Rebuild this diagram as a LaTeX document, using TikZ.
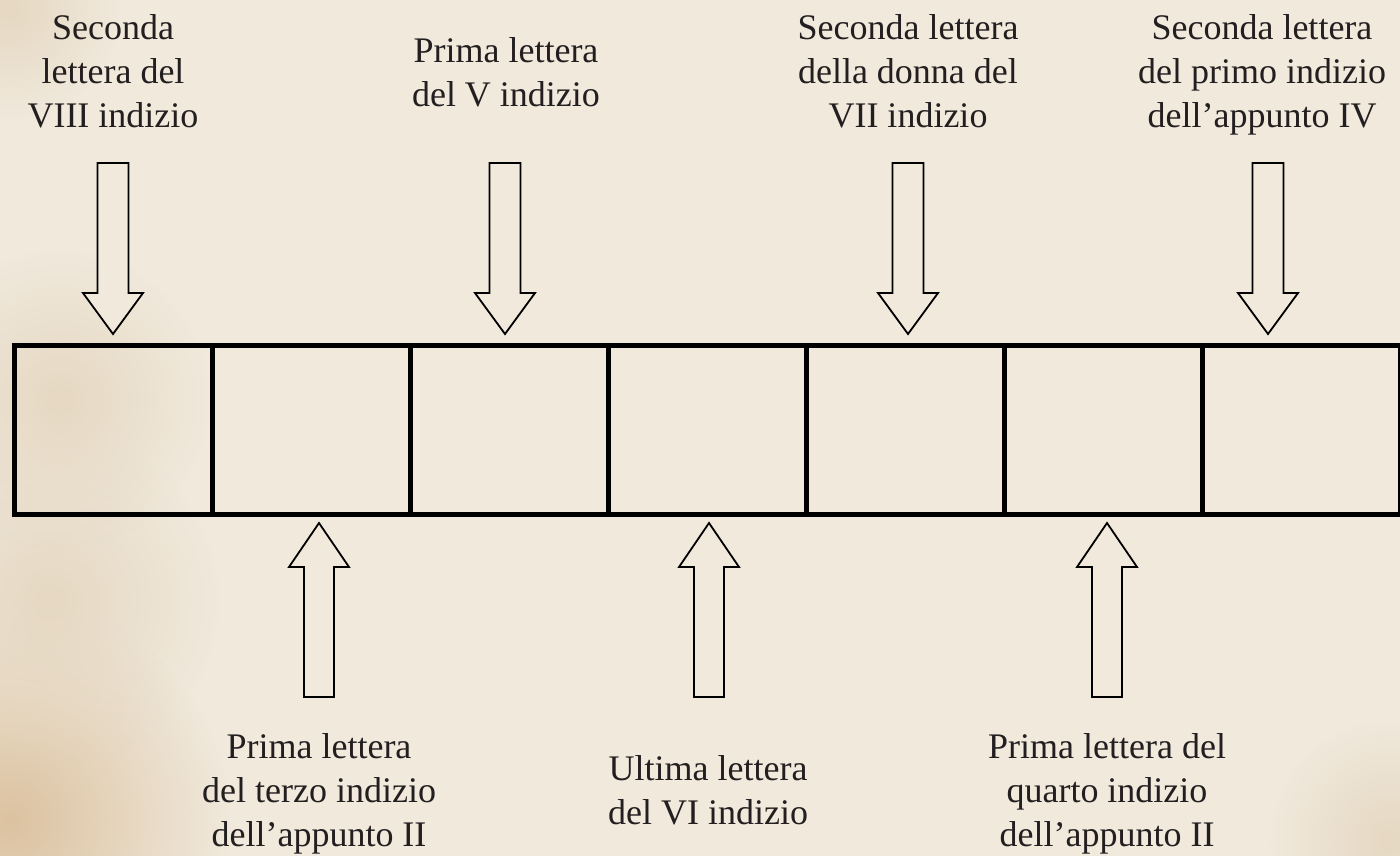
\documentclass[tikz,border=0pt]{standalone}
\usepackage{fontspec}
\setmainfont{Liberation Serif}
\usetikzlibrary{fadings}
\tikzfading[name=blotchfade, inner color=transparent!0, outer color=transparent!100]
\definecolor{paper}{HTML}{F0E9DC}
\definecolor{stain}{HTML}{DCC2A0}
\definecolor{stainlight}{HTML}{E6D8C2}
\definecolor{ink}{HTML}{231F20}
\begin{document}
\begin{tikzpicture}[x=1pt,y=-1pt,
  cell/.style={draw=black,line width=5pt,minimum width=198pt,minimum height=169pt,inner sep=0pt,outer sep=0pt,anchor=north west},
  blockarrow/.style={draw=black,line width=1.8pt,line join=miter,fill=paper},
  blotch/.style={path fading=blotchfade},
  lbl/.style={font=\fontsize{36}{44}\selectfont,text=ink,align=center,inner sep=0pt,anchor=north},
  downarr/.pic={\draw[blockarrow] (-15.5,0) -- (15.5,0) -- (15.5,130) -- (30,130) -- (0,171) -- (-30,130) -- (-15.5,130) -- cycle;},
  uparr/.pic={\draw[blockarrow] (0,0) -- (30,44) -- (15,44) -- (15,174) -- (-15,174) -- (-15,44) -- (-30,44) -- cycle;}]
\useasboundingbox (0,0) rectangle (1400,856);
\fill[paper] (0,0) rectangle (1400,856);
\begin{scope}
\clip (0,0) rectangle (1400,856);
\fill[stain,blotch] (10,820) circle (220);
\fill[stainlight,blotch] (50,600) circle (170);
\fill[stainlight,blotch] (60,400) circle (150);
\fill[stainlight,blotch] (1390,840) circle (120);
\fill[stainlight,blotch] (10,10) circle (110);
\end{scope}

% cells
\node[cell] (c1) at (14.5,345.5) {};
\node[cell] (c2) at (c1.north east) {};
\node[cell] (c3) at (c2.north east) {};
\node[cell] (c4) at (c3.north east) {};
\node[cell] (c5) at (c4.north east) {};
\node[cell] (c6) at (c5.north east) {};
\node[cell] (c7) at (c6.north east) {};

% down arrows
\pic at (113,163) {downarr};
\pic at (505,163) {downarr};
\pic at (908,163) {downarr};
\pic at (1268,163) {downarr};
% up arrows
\pic at (319,523) {uparr};
\pic at (709,523) {uparr};
\pic at (1107,523) {uparr};

% labels top
\node[lbl] (t1) at (113,14.4) {Seconda\\lettera del\\VIII indizio};
\node[lbl] (t2) at (506,37) {Prima lettera\\del V indizio};
\node[lbl] (t3) at (908,14.4) {Seconda lettera\\della donna del\\VII indizio};
\node[lbl] (t4) at (1262,14.4) {Seconda lettera\\del primo indizio\\dell’appunto IV};
% labels bottom
\node[lbl] (b1) at (319,733.4) {Prima lettera\\del terzo indizio\\dell’appunto II};
\node[lbl] (b2) at (708,755.4) {Ultima lettera\\del VI indizio};
\node[lbl] (b3) at (1107,733.4) {Prima lettera del\\quarto indizio\\dell’appunto II};
\end{tikzpicture}
\end{document}
